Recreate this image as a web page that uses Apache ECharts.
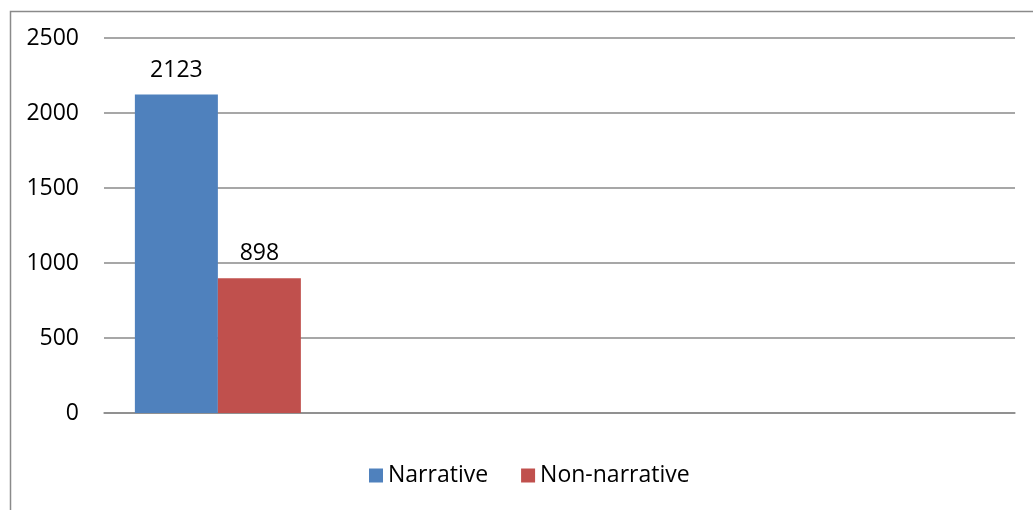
<!DOCTYPE html>
<html>
<head>
<meta charset="utf-8">
<script src="https://cdn.jsdelivr.net/npm/echarts@6/dist/echarts.min.js"></script>
<style>
  html, body { margin: 0; padding: 0; background: #fff; }
  #main { width: 1033px; height: 510px; }
</style>
</head>
<body>
<div id="main"></div>
<script>
// category slots (only the first one holds data)
var categories = ['', '', '', ''];
var seriesNames = ['Narrative', 'Non-narrative'];
var narrative = [2123, null, null, null];
var nonNarrative = [898, null, null, null];
var yTicks = [0, 500, 1000, 1500, 2000, 2500];

var fontFam = '"Open Sans", "Liberation Sans", sans-serif';
var gridColor = '#8a8a8a';

var chart = echarts.init(document.getElementById('main'));
chart.setOption({
  animation: false,
  textStyle: { fontFamily: fontFam },
  graphic: [{
    type: 'rect',
    left: 8, top: 9,
    shape: { width: 1100, height: 600 },
    style: { fill: 'none', stroke: '#8a8a8a', lineWidth: 1.5 }
  }],
  grid: { left: 104, right: 18, top: 38, bottom: 97 },
  legend: {
    top: 459,
    left: 364,
    itemWidth: 14, itemHeight: 14,
    itemGap: 33,
    icon: 'rect',
    textStyle: { fontSize: 23, color: '#000', fontFamily: fontFam },
    data: seriesNames
  },
  xAxis: {
    type: 'category',
    data: categories,
    axisLine: { lineStyle: { color: gridColor, width: 1.5 } },
    axisTick: { show: false },
    axisLabel: { show: false }
  },
  yAxis: {
    type: 'value',
    min: yTicks[0],
    max: yTicks[yTicks.length - 1],
    interval: 500,
    axisLine: { show: false },
    axisTick: { show: false },
    axisLabel: { fontSize: 23, color: '#000', margin: 25, fontFamily: fontFam,
      formatter: function (v) { return String(v); } },
    splitLine: { lineStyle: { color: gridColor, width: 1.5 } }
  },
  series: [{
    name: seriesNames[0],
    type: 'bar',
    data: narrative,
    barWidth: 83,
    barGap: 0,
    itemStyle: { color: '#4f81bd' },
    label: { show: true, position: 'top', distance: 13, fontSize: 23, color: '#000', fontFamily: fontFam }
  }, {
    name: seriesNames[1],
    type: 'bar',
    data: nonNarrative,
    barWidth: 83,
    barGap: 0,
    itemStyle: { color: '#c0504d' },
    label: { show: true, position: 'top', distance: 13, fontSize: 23, color: '#000', fontFamily: fontFam }
  }]
});
</script>
</body>
</html>
